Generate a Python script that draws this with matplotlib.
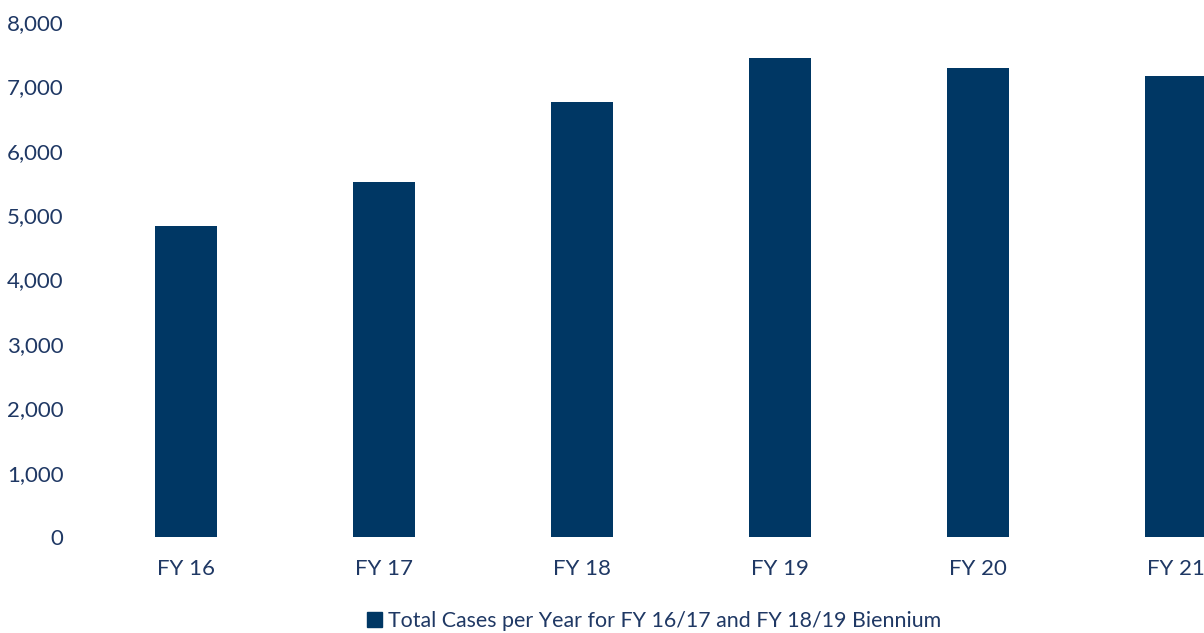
import matplotlib.pyplot as plt
from matplotlib.patches import Patch
from matplotlib.ticker import FuncFormatter

years = ['FY 16', 'FY 17', 'FY 18', 'FY 19', 'FY 20', 'FY 21']
cases = [4830, 5520, 6760, 7440, 7280, 7160]
series_name = 'Total Cases per Year for FY 16/17 and FY 18/19 Biennium'

bar_color = '#003764'
text_color = '#1F3864'

plt.rcParams['font.family'] = ['Lato', 'DejaVu Sans']

fig = plt.figure(figsize=(12.04, 6.33), dpi=100)
# plot area runs past the right edge, so the last bar gets clipped like the original
ax = fig.add_axes([87 / 1204, 96 / 633, 1188 / 1204, 515 / 633])

x = list(range(len(years)))
ax.bar(x, cases, width=0.313, color=bar_color)

ax.set_xlim(-0.5, 5.5)
ax.set_ylim(0, 8000)
ax.set_yticks(range(0, 8001, 1000))
ax.yaxis.set_major_formatter(FuncFormatter(lambda v, p: f'{int(v):,}'))
ax.set_xticks(x)
ax.set_xticklabels(years)

for s in ax.spines.values():
    s.set_visible(False)
ax.tick_params(axis='both', length=0, labelsize=16, labelcolor=text_color)
ax.tick_params(axis='y', pad=17)
ax.tick_params(axis='x', pad=16)

fig.legend(handles=[Patch(color=bar_color, label=series_name)],
           loc='center', bbox_to_anchor=(654 / 1204, 12 / 633),
           frameon=False, fontsize=15.4, labelcolor=text_color,
           handlelength=0.7, handleheight=0.7, handletextpad=0.3)

fig.savefig('out.png', dpi=100)
